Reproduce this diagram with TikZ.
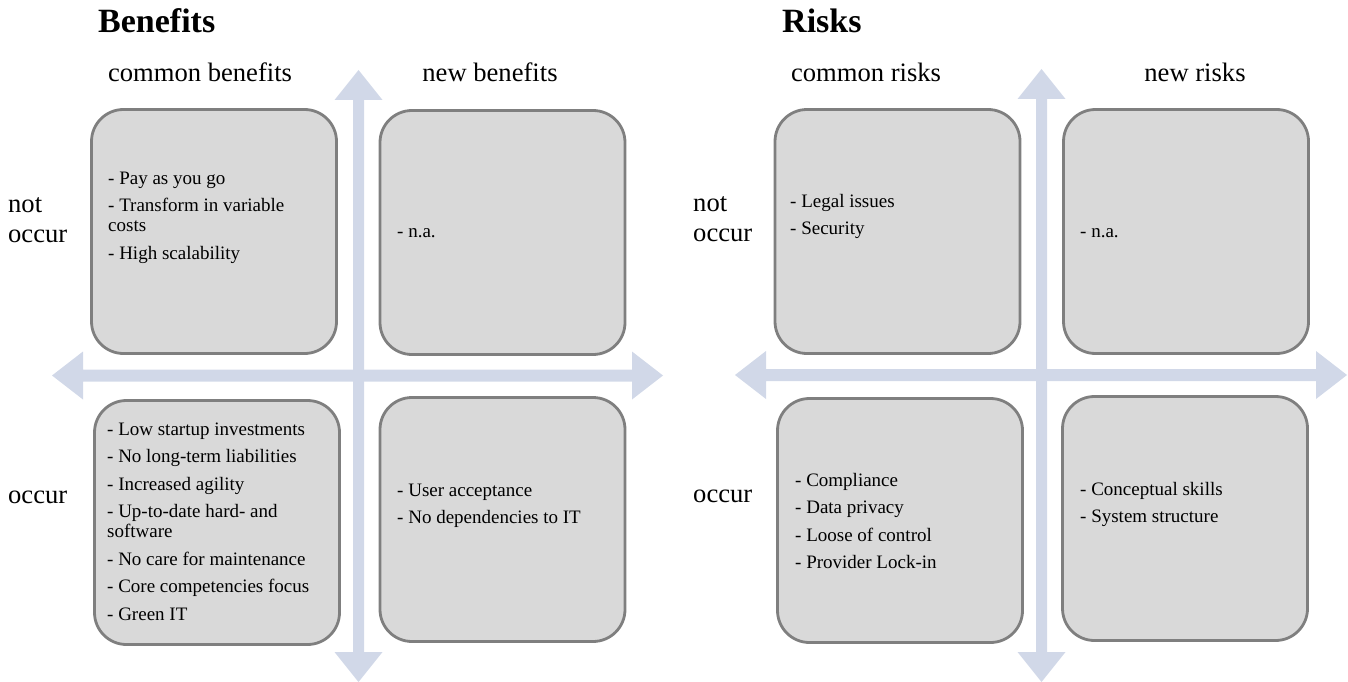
\documentclass[tikz,border=0pt]{standalone}
\usepackage{fontspec}
\setmainfont{Liberation Serif}
\definecolor{axisblue}{HTML}{D1D8E8}
\definecolor{boxfill}{HTML}{D9D9D9}
\definecolor{boxline}{HTML}{7F7F7F}
\newcommand{\bulletgap}{\\[7.5pt]}
\begin{document}
\begin{tikzpicture}[x=1pt,y=-1pt,
  quad/.style={draw=boxline, fill=boxfill, line width=2.8pt, rounded corners=32pt,
    minimum width=245pt, minimum height=244pt, inner sep=0pt},
  axis/.style={fill=axisblue, draw=none},
  colhead/.style={font=\fontsize{26.6}{30}\selectfont, anchor=base, inner sep=0pt},
  paneltitle/.style={font=\fontsize{34}{38}\selectfont\bfseries, anchor=base west, inner sep=0pt},
  rowlab/.style={font=\fontsize{26.6}{30}\selectfont, anchor=base west, inner sep=0pt},
  items/.style={font=\fontsize{19}{20}\selectfont, anchor=base west, inner sep=0pt}]
\useasboundingbox (0,0) rectangle (1348,682);

% ---------- axes (block arrows) ----------
\fill[axis] (358.5,70) -- (382.5,100) -- (364,100) -- (364,652) -- (382.5,652) -- (358.5,682)
  -- (334.5,652) -- (353,652) -- (353,100) -- (334.5,100) -- cycle;
\fill[axis] (52,375.5) -- (83,351.5) -- (83,369.5) -- (632,369.5) -- (632,351.5) -- (663,375.5)
  -- (632,399.5) -- (632,381.5) -- (83,381.5) -- (83,399.5) -- cycle;
\fill[axis] (1041.5,69) -- (1065.5,99) -- (1047,99) -- (1047,652) -- (1065.5,652) -- (1041.5,682)
  -- (1017.5,652) -- (1036,652) -- (1036,99) -- (1017.5,99) -- cycle;
\fill[axis] (735,375) -- (766,351) -- (766,369) -- (1316,369) -- (1316,351) -- (1347,375)
  -- (1316,399) -- (1316,381) -- (766,381) -- (766,399) -- cycle;

% ---------- boxes ----------
\node[quad] (ltl) at (214,231.5) {};
\node[quad] (ltr) at (502.5,232.5) {};
\node[quad] (lbl) at (217,522.5) {};
\node[quad] (lbr) at (502.5,519.5) {};
\node[quad] (rtl) at (897.5,231.5) {};
\node[quad] (rtr) at (1186,231.5) {};
\node[quad] (rbl) at (900,520.5) {};
\node[quad] (rbr) at (1185,518.5) {};

% ---------- titles and headers ----------
\node[paneltitle] (tben) at (98,33) {Benefits};
\node[paneltitle] (trisk) at (782,33) {Risks};
\node[colhead] (hcb) at (200,82) {common benefits};
\node[colhead] (hnb) at (490,82) {new benefits};
\node[colhead] (hcr) at (866,82) {common risks};
\node[colhead] (hnr) at (1195,82) {new risks};

% ---------- row labels ----------
\node[rowlab] (lno) at (8,212) {\begin{tabular}[t]{@{}l@{}}not\\occur\end{tabular}};
\node[rowlab] (lo) at (8,503) {occur};
\node[rowlab] (rno) at (693,211) {\begin{tabular}[t]{@{}l@{}}not\\occur\end{tabular}};
\node[rowlab] (ro) at (693,502) {occur};

% ---------- box contents ----------
\node[items] (tltl) at (108,184) {\begin{tabular}[t]{@{}l@{}}
- Pay as you go\bulletgap
- Transform in variable\\costs\bulletgap
- High scalability\end{tabular}};
\node[items] (tltr) at (397,237) {- n.a.};
\node[items] (tlbl) at (107,435) {\begin{tabular}[t]{@{}l@{}}
- Low startup investments\bulletgap
- No long-term liabilities\bulletgap
- Increased agility\bulletgap
- Up-to-date hard- and\\software\bulletgap
- No care for maintenance\bulletgap
- Core competencies focus\bulletgap
- Green IT\end{tabular}};
\node[items] (tlbr) at (397,496) {\begin{tabular}[t]{@{}l@{}}
- User acceptance\bulletgap
- No dependencies to IT\end{tabular}};
\node[items] (trtl) at (790,207) {\begin{tabular}[t]{@{}l@{}}
- Legal issues\bulletgap
- Security\end{tabular}};
\node[items] (trtr) at (1080,237) {- n.a.};
\node[items] (trbl) at (795,486) {\begin{tabular}[t]{@{}l@{}}
- Compliance\bulletgap
- Data privacy\bulletgap
- Loose of control\bulletgap
- Provider Lock-in\end{tabular}};
\node[items] (trbr) at (1080,495) {\begin{tabular}[t]{@{}l@{}}
- Conceptual skills\bulletgap
- System structure\end{tabular}};
\end{tikzpicture}
\end{document}
